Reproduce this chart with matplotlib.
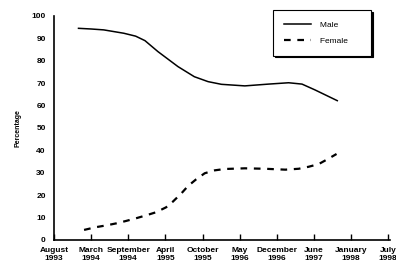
import matplotlib
matplotlib.use("Agg")
import matplotlib.pyplot as plt
from matplotlib.ticker import MultipleLocator, FixedLocator

# tick labels (one per survey tick, equally spaced)
tick_labels = ["August\n1993", "March\n1994", "September\n1994", "April\n1995",
               "October\n1995", "May\n1996", "December\n1996", "June\n1997",
               "January\n1998", "July\n1998"]

# values (x in tick units)
male_x = [0.66, 1.00, 1.34, 1.88, 2.20, 2.45, 2.80, 3.34, 3.78, 4.15, 4.51,
          5.14, 5.78, 6.32, 6.68, 7.03, 7.63]
male_y = [94.5, 94.2, 93.8, 92.3, 91.0, 89.0, 84.1, 77.4, 72.9, 70.7, 69.5,
          68.8, 69.6, 70.2, 69.6, 67.0, 62.2]

female_x = [0.81, 1.12, 1.40, 1.67, 1.94, 2.21, 2.48, 2.75, 3.02, 3.20,
            3.43, 3.61, 3.83, 4.06, 4.33, 4.60, 5.14, 5.69, 6.23, 6.59,
            6.86, 7.13, 7.36, 7.61]
female_y = [4.5, 5.7, 6.5, 7.4, 8.5, 9.7, 11.0, 12.4, 14.6, 17.1,
            20.8, 24.1, 27.1, 29.8, 31.1, 31.7, 32.0, 31.8, 31.4, 31.8,
            32.7, 33.9, 36.0, 38.4]

plt.rcParams['font.family'] = ['Liberation Sans', 'DejaVu Sans']

fig = plt.figure(figsize=(3.96, 2.66), dpi=100)
ax = fig.add_axes([54/396, 26/266, 336/396, 224/266])

ax.plot(male_x, male_y, color="black", lw=1.1, label="Male")
ax.plot(female_x, female_y, color="black", lw=1.6, dashes=(3, 3), label="Female")

ax.set_xlim(0, 9.05)
ax.set_ylim(0, 100)
ax.spines["top"].set_visible(False)
ax.spines["right"].set_visible(False)
for s in ("left", "bottom"):
    ax.spines[s].set_linewidth(1.2)

ax.set_xticks(range(len(tick_labels)))
ax.set_xticklabels(tick_labels, fontsize=6, fontweight="bold", linespacing=1.25)
ax.tick_params(axis="x", direction="in", length=4, width=1, pad=5)

ax.yaxis.set_major_locator(MultipleLocator(10))
ax.yaxis.set_minor_locator(FixedLocator([20, 40, 60, 80, 100]))
ax.tick_params(axis="y", which="major", length=0, pad=6, labelsize=6)
ax.tick_params(axis="y", which="minor", direction="in", length=6, width=1)
for t in ax.get_yticklabels():
    t.set_fontweight("bold")

ax.set_ylabel("Percentage", fontsize=5, fontweight="bold", labelpad=7)

leg = ax.legend(loc="upper left", bbox_to_anchor=(273/396, 1 - 10/266),
                bbox_transform=fig.transFigure, fontsize=6, frameon=True,
                fancybox=False, handlelength=3.2, handletextpad=1.2,
                labelspacing=1.0, borderpad=1.3, borderaxespad=0,
                shadow={"ox": 1.2, "oy": -1.2, "color": "black", "alpha": 1})
leg.get_frame().set_edgecolor("black")
leg.get_frame().set_linewidth(0.8)
for t in leg.get_texts():
    t.set_text(t.get_text() + "     ")

fig.savefig("out.png", dpi=100)
